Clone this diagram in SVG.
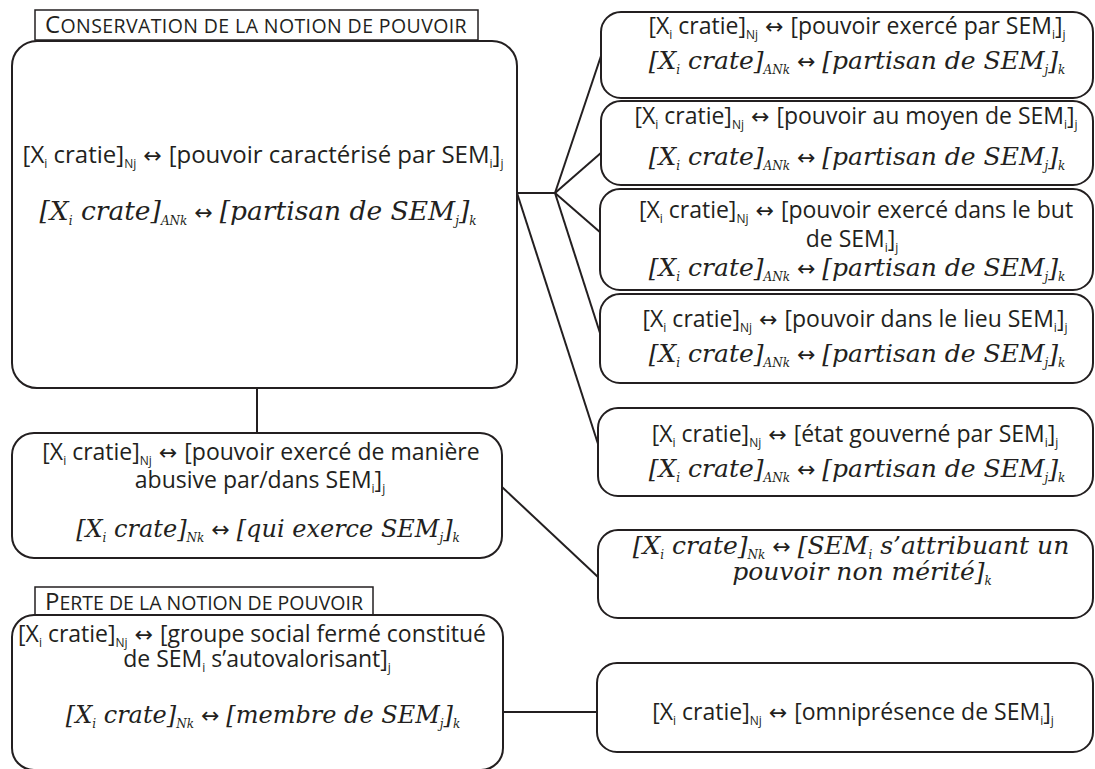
<svg xmlns="http://www.w3.org/2000/svg" width="1095" height="769" viewBox="0 0 1095 769">
<style>
.bg{fill:#fff}
.box{fill:#fff;stroke:#231f20;stroke-width:2}
.hdr{fill:#fff;stroke:#231f20;stroke-width:1.5}
.ln{stroke:#231f20;stroke-width:2;fill:none}
.t{font-family:"Open Sans","Liberation Sans",sans-serif;font-size:23px;fill:#231f20;text-anchor:middle}
.tm{font-size:24px}
.i{font-family:"DejaVu Serif","Liberation Serif",serif;font-style:italic;font-size:25px;fill:#231f20;text-anchor:middle}
.il{font-size:24px}
.im{font-size:26.5px}
.h{font-family:"Open Sans","Liberation Sans",sans-serif;font-size:24px;letter-spacing:0.4px;fill:#231f20}
.h2{letter-spacing:0px}
.sc{font-size:19.5px}
.s{font-size:12px}
.si{font-size:12px}
.ar{font-family:"DejaVu Sans",sans-serif;font-style:normal;font-size:22px}
</style>
<rect class="bg" x="0" y="0" width="1095" height="769"/>
<g id="connectors">
<line class="ln" x1="257" y1="388" x2="257" y2="433"/>
<line class="ln" x1="517" y1="193" x2="555" y2="193"/>
<line class="ln" x1="555" y1="193" x2="602" y2="53"/>
<line class="ln" x1="555" y1="193" x2="602" y2="152"/>
<line class="ln" x1="555" y1="193" x2="601" y2="233"/>
<line class="ln" x1="555" y1="193" x2="600" y2="333"/>
<line class="ln" x1="517" y1="193" x2="599" y2="447"/>
<line class="ln" x1="502" y1="487" x2="598" y2="577"/>
<line class="ln" x1="503" y1="712" x2="597" y2="712"/>
</g>
<g id="header-conservation">
<rect class="hdr" x="35" y="10" width="443" height="30"/>
<text class="h" x="45" y="33">C<tspan class="sc">ONSERVATION DE LA NOTION DE POUVOIR</tspan></text>
</g>
<g id="node-main">
<rect class="box" x="12" y="41" width="505" height="347" rx="25"/>
<text class="t tm" x="263" y="163">[X<tspan class="s" dy="5">i</tspan><tspan dy="-5"> cratie]</tspan><tspan class="s" dy="5">Nj</tspan><tspan class="ar" dy="-5"> ↔ </tspan><tspan>[pouvoir caractérisé par SEM</tspan><tspan class="s" dy="5">i</tspan><tspan dy="-5">]</tspan><tspan class="s" dy="5">j</tspan></text>
<text class="i im" x="258" y="220">[X<tspan class="si" dy="5">i</tspan><tspan dy="-5"> crate]</tspan><tspan class="si" dy="5">ANk</tspan><tspan class="ar" dy="-5"> ↔ </tspan><tspan>[partisan de SEM</tspan><tspan class="si" dy="5">j</tspan><tspan dy="-5">]</tspan><tspan class="si" dy="5">k</tspan></text>
</g>
<g id="node-par">
<rect class="box" x="601" y="12" width="492" height="86" rx="20"/>
<text class="t" x="857" y="34">[X<tspan class="s" dy="5">i</tspan><tspan dy="-5"> cratie]</tspan><tspan class="s" dy="5">Nj</tspan><tspan class="ar" dy="-5"> ↔ </tspan><tspan>[pouvoir exercé par SEM</tspan><tspan class="s" dy="5">i</tspan><tspan dy="-5">]</tspan><tspan class="s" dy="5">j</tspan></text>
<text class="i" x="857" y="69">[X<tspan class="si" dy="5">i</tspan><tspan dy="-5"> crate]</tspan><tspan class="si" dy="5">ANk</tspan><tspan class="ar" dy="-5"> ↔ </tspan><tspan>[partisan de SEM</tspan><tspan class="si" dy="5">j</tspan><tspan dy="-5">]</tspan><tspan class="si" dy="5">k</tspan></text>
</g>
<g id="node-moyen">
<rect class="box" x="601" y="101" width="492" height="84" rx="20"/>
<text class="t" x="856" y="124">[X<tspan class="s" dy="5">i</tspan><tspan dy="-5"> cratie]</tspan><tspan class="s" dy="5">Nj</tspan><tspan class="ar" dy="-5"> ↔ </tspan><tspan>[pouvoir au moyen de SEM</tspan><tspan class="s" dy="5">i</tspan><tspan dy="-5">]</tspan><tspan class="s" dy="5">j</tspan></text>
<text class="i" x="857" y="165">[X<tspan class="si" dy="5">i</tspan><tspan dy="-5"> crate]</tspan><tspan class="si" dy="5">ANk</tspan><tspan class="ar" dy="-5"> ↔ </tspan><tspan>[partisan de SEM</tspan><tspan class="si" dy="5">j</tspan><tspan dy="-5">]</tspan><tspan class="si" dy="5">k</tspan></text>
</g>
<g id="node-but">
<rect class="box" x="600" y="189" width="493" height="101" rx="20"/>
<text class="t" x="856" y="218">[X<tspan class="s" dy="5">i</tspan><tspan dy="-5"> cratie]</tspan><tspan class="s" dy="5">Nj</tspan><tspan class="ar" dy="-5"> ↔ </tspan><tspan>[pouvoir exercé dans le but</tspan></text>
<text class="t" x="852" y="247">de SEM<tspan class="s" dy="5">i</tspan><tspan dy="-5">]</tspan><tspan class="s" dy="5">j</tspan></text>
<text class="i" x="857" y="276">[X<tspan class="si" dy="5">i</tspan><tspan dy="-5"> crate]</tspan><tspan class="si" dy="5">ANk</tspan><tspan class="ar" dy="-5"> ↔ </tspan><tspan>[partisan de SEM</tspan><tspan class="si" dy="5">j</tspan><tspan dy="-5">]</tspan><tspan class="si" dy="5">k</tspan></text>
</g>
<g id="node-lieu">
<rect class="box" x="600" y="294" width="493" height="89" rx="20"/>
<text class="t" x="855" y="327">[X<tspan class="s" dy="5">i</tspan><tspan dy="-5"> cratie]</tspan><tspan class="s" dy="5">Nj</tspan><tspan class="ar" dy="-5"> ↔ </tspan><tspan>[pouvoir dans le lieu SEM</tspan><tspan class="s" dy="5">i</tspan><tspan dy="-5">]</tspan><tspan class="s" dy="5">j</tspan></text>
<text class="i" x="857" y="362">[X<tspan class="si" dy="5">i</tspan><tspan dy="-5"> crate]</tspan><tspan class="si" dy="5">ANk</tspan><tspan class="ar" dy="-5"> ↔ </tspan><tspan>[partisan de SEM</tspan><tspan class="si" dy="5">j</tspan><tspan dy="-5">]</tspan><tspan class="si" dy="5">k</tspan></text>
</g>
<g id="node-etat">
<rect class="box" x="598" y="408" width="495" height="88" rx="20"/>
<text class="t" x="855" y="442">[X<tspan class="s" dy="5">i</tspan><tspan dy="-5"> cratie]</tspan><tspan class="s" dy="5">Nj</tspan><tspan class="ar" dy="-5"> ↔ </tspan><tspan>[état gouverné par SEM</tspan><tspan class="s" dy="5">i</tspan><tspan dy="-5">]</tspan><tspan class="s" dy="5">j</tspan></text>
<text class="i" x="857" y="477">[X<tspan class="si" dy="5">i</tspan><tspan dy="-5"> crate]</tspan><tspan class="si" dy="5">ANk</tspan><tspan class="ar" dy="-5"> ↔ </tspan><tspan>[partisan de SEM</tspan><tspan class="si" dy="5">j</tspan><tspan dy="-5">]</tspan><tspan class="si" dy="5">k</tspan></text>
</g>
<g id="node-attribuant">
<rect class="box" x="598" y="530" width="495" height="88" rx="20"/>
<text class="i" x="851" y="554">[X<tspan class="si" dy="5">i</tspan><tspan dy="-5"> crate]</tspan><tspan class="si" dy="5">Nk</tspan><tspan class="ar" dy="-5"> ↔ </tspan><tspan>[SEM</tspan><tspan class="si" dy="5">i</tspan><tspan dy="-5"> s’attribuant un</tspan></text>
<text class="i" x="862" y="580">pouvoir non mérité]<tspan class="si" dy="5">k</tspan></text>
</g>
<g id="node-omnipresence">
<rect class="box" x="597" y="663" width="496" height="89" rx="20"/>
<text class="t" x="853" y="720">[X<tspan class="s" dy="5">i</tspan><tspan dy="-5"> cratie]</tspan><tspan class="s" dy="5">Nj</tspan><tspan class="ar" dy="-5"> ↔ </tspan><tspan>[omniprésence de SEM</tspan><tspan class="s" dy="5">i</tspan><tspan dy="-5">]</tspan><tspan class="s" dy="5">j</tspan></text>
</g>
<g id="node-abusive">
<rect class="box" x="12" y="433" width="490" height="125" rx="22"/>
<text class="t" x="261" y="460">[X<tspan class="s" dy="5">i</tspan><tspan dy="-5"> cratie]</tspan><tspan class="s" dy="5">Nj</tspan><tspan class="ar" dy="-5"> ↔ </tspan><tspan>[pouvoir exercé de manière</tspan></text>
<text class="t" x="260" y="488">abusive par/dans SEM<tspan class="s" dy="5">i</tspan><tspan dy="-5">]</tspan><tspan class="s" dy="5">j</tspan></text>
<text class="i il" x="268" y="537">[X<tspan class="si" dy="5">i</tspan><tspan dy="-5"> crate]</tspan><tspan class="si" dy="5">Nk</tspan><tspan class="ar" dy="-5"> ↔ </tspan><tspan>[qui exerce SEM</tspan><tspan class="si" dy="5">j</tspan><tspan dy="-5">]</tspan><tspan class="si" dy="5">k</tspan></text>
</g>
<g id="header-perte">
<rect class="hdr" x="35" y="587" width="338" height="28"/>
<text class="h h2" x="45" y="610">P<tspan class="sc">ERTE DE LA NOTION DE POUVOIR</tspan></text>
</g>
<g id="node-groupe">
<rect class="box" x="12" y="615" width="491" height="155" rx="22"/>
<text class="t" x="252" y="642">[X<tspan class="s" dy="5">i</tspan><tspan dy="-5"> cratie]</tspan><tspan class="s" dy="5">Nj</tspan><tspan class="ar" dy="-5"> ↔ </tspan><tspan>[groupe social fermé constitué</tspan></text>
<text class="t" x="257" y="667">de SEM<tspan class="s" dy="5">i</tspan><tspan dy="-5"> s’autovalorisant]</tspan><tspan class="s" dy="5">j</tspan></text>
<text class="i il" x="263" y="723">[X<tspan class="si" dy="5">i</tspan><tspan dy="-5"> crate]</tspan><tspan class="si" dy="5">Nk</tspan><tspan class="ar" dy="-5"> ↔ </tspan><tspan>[membre de SEM</tspan><tspan class="si" dy="5">j</tspan><tspan dy="-5">]</tspan><tspan class="si" dy="5">k</tspan></text>
</g>
</svg>
